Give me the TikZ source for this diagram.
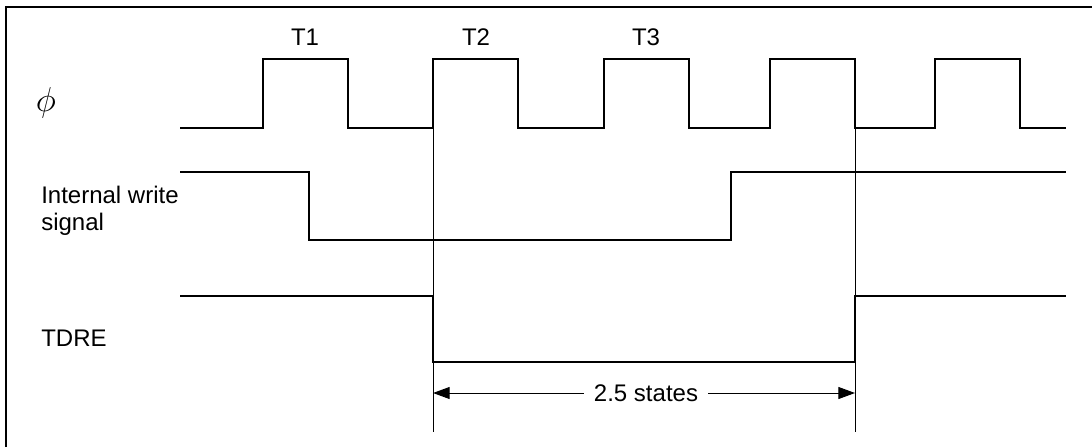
\documentclass[tikz,border=0pt]{standalone}
\usepackage{fontspec}
\setmainfont{Liberation Sans}
\usepackage{tikz}
\usetikzlibrary{arrows.meta}

\begin{document}
\begin{tikzpicture}[x=0.75pt,y=-0.75pt,
        every node/.style={font=\fontsize{18}{20}\selectfont,inner sep=0pt},
        wave/.style={line width=1.1pt},
        marker/.style={line width=0.75pt},
        dimline/.style={line width=0.75pt,-{Triangle[length=12.5pt,width=9pt]}}]
            \useasboundingbox (0,0) rectangle (1092,447);
            \draw[line width=1.1pt] (6,447) -- (6,7) -- (1092,7);

            % labels
            \node (phi) at (46,103) {\scalebox{1.5}{$\phi$}};
            \node (wr) at (41,211) [anchor=west,align=left] {Internal write\\signal};
            \node (tdre) at (41,338) [anchor=west] {TDRE};
            \node (t1) at (305,37) {T1};
            \node (t2) at (476,37) {T2};
            \node (t3) at (646,37) {T3};

            % clock
            \draw[wave] (180,128) -- (263,128) -- (263,59) -- (348,59) -- (348,128)
                -- (433,128) -- (433,59) -- (518,59) -- (518,128)
                -- (604,128) -- (604,59) -- (689,59) -- (689,128)
                -- (770,128) -- (770,59) -- (855,59) -- (855,128)
                -- (935,128) -- (935,59) -- (1020,59) -- (1020,128) -- (1066,128);

            % internal write signal
            \draw[wave] (180,172) -- (309,172) -- (309,240) -- (731,240) -- (731,172) -- (1066,172);

            % TDRE
            \draw[wave] (180,296) -- (433,296) -- (433,362) -- (855,362) -- (855,296) -- (1066,296);

            % markers
            \coordinate (m1top) at (433,128);
            \coordinate (m1bot) at (433,432);
            \coordinate (m2top) at (855,128);
            \coordinate (m2bot) at (855,432);
            \draw[marker] (m1top) -- (m1bot);
            \draw[marker] (m2top) -- (m2bot);

            \node (states) at (646,393) [inner xsep=7.5pt] {2.5 states};
            \draw[dimline] (states.west) -- (states.west -| m1top);
            \draw[dimline] (states.east) -- (states.east -| m2top);
        \end{tikzpicture}
\end{document}
